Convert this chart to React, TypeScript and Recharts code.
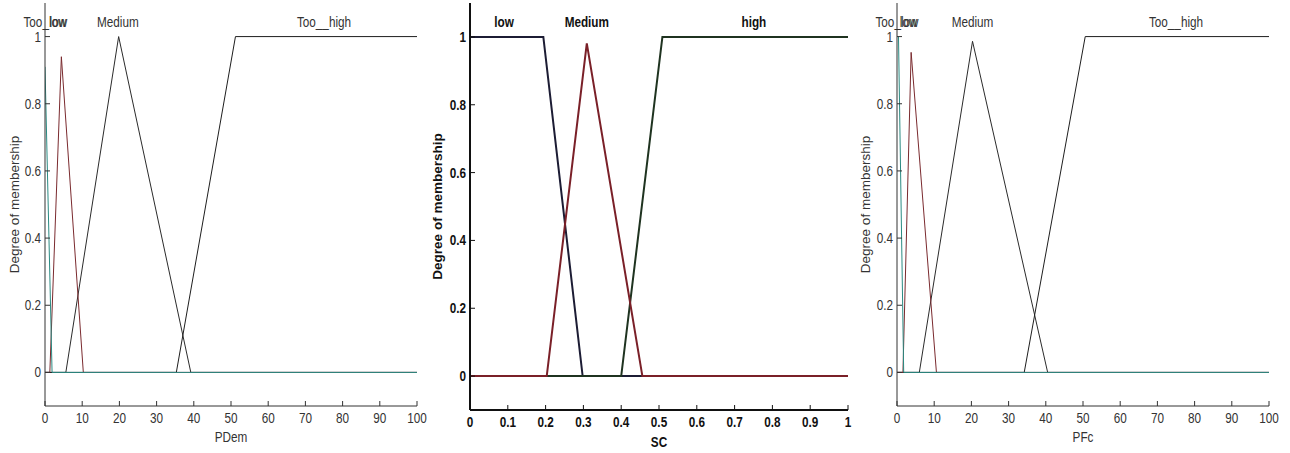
import React from 'react';
import { LineChart, Line, XAxis, YAxis, ReferenceDot } from 'recharts';

type Pt = [number, number];

// ---------- PDem ----------
const pdemTooLow: Pt[] = [[0, 0.91], [1.9, 0], [100, 0]];
const pdemLow: Pt[] = [[0, 0], [1.3, 0], [4.4, 0.94], [10.3, 0], [100, 0]];
const pdemMedium: Pt[] = [[0, 0], [5.6, 0], [19.8, 1], [39.2, 0], [100, 0]];
const pdemTooHigh: Pt[] = [[0, 0], [35.3, 0], [51.2, 1], [100, 1]];
const pdemLabels = ['Too_low', 'low', 'Medium', 'Too__high'];
const pdemLabelX = [0, 3.6, 19.6, 75];

// ---------- SC ----------
const scLow: Pt[] = [[0, 1], [0.194, 1], [0.298, 0], [1, 0]];
const scMedium: Pt[] = [[0, 0], [0.203, 0], [0.309, 0.981], [0.456, 0], [1, 0]];
const scHigh: Pt[] = [[0, 0], [0.4, 0], [0.509, 1], [1, 1]];
const scLabels = ['low', 'Medium', 'high'];
const scLabelX = [0.09, 0.309, 0.751];

// ---------- PFc ----------
const pfcTooLow: Pt[] = [[0.4, 1], [1.8, 0], [100, 0]];
const pfcLow: Pt[] = [[0, 0], [1.6, 0], [3.8, 0.953], [10.6, 0], [100, 0]];
const pfcMedium: Pt[] = [[0, 0], [6.0, 0], [20.3, 0.986], [40.5, 0], [100, 0]];
const pfcTooHigh: Pt[] = [[0, 0], [34.2, 0], [50.6, 1], [100, 1]];
const pfcLabels = ['Too_low', 'low', 'Medium', 'Too__high'];
const pfcLabelX = [0, 3.1, 20.3, 75];

// ---------- axes ----------
const yTicks = [0, 0.2, 0.4, 0.6, 0.8, 1];
const xTicks100 = [0, 10, 20, 30, 40, 50, 60, 70, 80, 90, 100];
const xTicks1 = [0, 0.1, 0.2, 0.3, 0.4, 0.5, 0.6, 0.7, 0.8, 0.9, 1];
const labelY = 1.043;

const FONT = "'Liberation Sans', Arial, sans-serif";
const SX = 0.84; // horizontal squeeze to imitate a narrow face

const toData = (pts: Pt[]) => pts.map(([x, y]) => ({ x, y }));

type Series = { pts: Pt[]; color: string };

type PanelProps = {
  left: number;
  width: number;
  yAxisWidth: number;
  marginRight: number;
  bottomH: number;
  xDomain: [number, number];
  xTicks: number[];
  xLabel: string;
  yLabelOffset: number;
  xLabelDy: number;
  series: Series[];
  labels: string[];
  labelX: number[];
  bold: boolean;
  sw: number;
  axisColor: string;
  textColor: string;
};

function NarrowText(props: { x: number; y: number; anchor: string; size: number; weight: string; color: string; dy?: string; children: string }) {
  return (
    <text
      transform={`translate(${props.x},${props.y}) scale(${SX},1)`}
      x={0}
      y={0}
      dy={props.dy || 0}
      textAnchor={props.anchor as any}
      fontFamily={FONT}
      fontSize={props.size}
      fontWeight={props.weight}
      fill={props.color}
    >
      {props.children}
    </text>
  );
}

function Panel(p: PanelProps) {
  const fw = p.bold ? 'bold' : 'normal';
  const axisW = p.bold ? 2 : 1;
  const TS = 14;

  const BottomTick = (t: any) => (
    <g>
      <line x1={t.x} x2={t.x} y1={t.y} y2={t.y - 5} stroke={p.axisColor} strokeWidth={1} />
      <NarrowText x={t.x} y={t.y + 16.5} anchor="middle" size={TS} weight={fw} color={p.textColor}>
        {String(t.payload.value)}
      </NarrowText>
    </g>
  );
  const TopTick = (t: any) => (
    <line x1={t.x} x2={t.x} y1={t.y} y2={t.y + 5} stroke={p.axisColor} strokeWidth={1} />
  );
  const LeftTick = (t: any) => (
    <g>
      <line x1={t.x} x2={t.x + 5} y1={t.y} y2={t.y} stroke={p.axisColor} strokeWidth={1} />
      <NarrowText x={t.x - 4} y={t.y} dy="0.36em" anchor="end" size={TS} weight={fw} color={p.textColor}>
        {String(t.payload.value)}
      </NarrowText>
    </g>
  );
  const RightTick = (t: any) => (
    <line x1={t.x} x2={t.x - 5} y1={t.y} y2={t.y} stroke={p.axisColor} strokeWidth={1} />
  );
  const XLabel = (lp: any) => {
    const vb = lp.viewBox || {};
    return (
      <NarrowText x={vb.x + vb.width / 2} y={vb.y + p.xLabelDy} anchor="middle" size={14} weight={fw} color={p.textColor}>
        {p.xLabel}
      </NarrowText>
    );
  };

  return (
    <div style={{ position: 'absolute', left: p.left, top: 0, width: p.width, height: 453 }}>
      <LineChart
        width={p.width}
        height={453}
        margin={{ top: 3, right: p.marginRight, bottom: 0, left: 0 }}
      >
        <XAxis
          xAxisId={0}
          dataKey="x"
          type="number"
          domain={p.xDomain}
          ticks={p.xTicks}
          interval={0}
          allowDataOverflow
          height={p.bottomH}
          tickSize={0}
          tickMargin={0}
          tickLine={false}
          tick={BottomTick}
          axisLine={{ stroke: p.axisColor, strokeWidth: axisW }}
          label={XLabel}
        />
        <XAxis
          xAxisId="top"
          orientation="top"
          dataKey="x"
          type="number"
          domain={p.xDomain}
          ticks={p.xTicks}
          interval={0}
          allowDataOverflow
          height={0}
          tickSize={0}
          tickMargin={0}
          tickLine={false}
          tick={TopTick}
          axisLine={{ stroke: p.axisColor, strokeWidth: axisW }}
        />
        <YAxis
          yAxisId={0}
          type="number"
          domain={[-0.1, 1.1]}
          ticks={yTicks}
          interval={0}
          allowDataOverflow
          width={p.yAxisWidth}
          tickSize={0}
          tickMargin={0}
          tickLine={false}
          tick={LeftTick}
          axisLine={{ stroke: p.axisColor, strokeWidth: axisW }}
          label={{
            value: 'Degree of membership',
            angle: -90,
            position: 'insideLeft',
            offset: p.yLabelOffset,
            style: { textAnchor: 'middle', fontFamily: FONT, fontSize: 13.5, fontWeight: fw, fill: p.textColor },
          }}
        />
        <YAxis
          yAxisId="right"
          orientation="right"
          type="number"
          domain={[-0.1, 1.1]}
          ticks={yTicks}
          interval={0}
          allowDataOverflow
          width={0}
          tickSize={0}
          tickMargin={0}
          tickLine={false}
          tick={RightTick}
          axisLine={{ stroke: p.axisColor, strokeWidth: axisW }}
        />
        {p.series.map((s, i) => (
          <Line
            key={i}
            data={toData(s.pts)}
            dataKey="y"
            type="linear"
            stroke={s.color}
            strokeWidth={p.sw}
            dot={false}
            activeDot={false}
            isAnimationActive={false}
          />
        ))}
        {p.labels.map((lab, i) => (
          <ReferenceDot
            key={'l' + i}
            x={p.labelX[i]}
            y={labelY}
            r={0}
            fill="none"
            stroke="none"
            label={(lp: any) => {
              const vb = lp.viewBox || {};
              const cx = (vb.x || 0) + (vb.width || 0) / 2;
              const cy = (vb.y || 0) + (vb.height || 0) / 2;
              return (
                <NarrowText x={cx} y={cy} dy="0.36em" anchor="middle" size={14} weight={fw} color={p.textColor}>
                  {lab}
                </NarrowText>
              );
            }}
          />
        ))}
      </LineChart>
    </div>
  );
}

export default function App() {
  return (
    <div style={{ position: 'absolute', left: 0, top: 0, width: 1290, height: 453, background: '#fff' }}>
      <Panel
        left={0}
        width={430}
        yAxisWidth={45}
        marginRight={13}
        bottomH={47}
        xDomain={[0, 100]}
        xTicks={xTicks100}
        xLabel="PDem"
        yLabelOffset={14}
        xLabelDy={36}
        series={[
          { pts: pdemMedium, color: '#2b2b2b' },
          { pts: pdemTooHigh, color: '#1e1e1e' },
          { pts: pdemLow, color: '#7a2a2e' },
          { pts: pdemTooLow, color: '#2a8a82' },
        ]}
        labels={pdemLabels}
        labelX={pdemLabelX}
        bold={false}
        sw={1}
        axisColor="#333"
        textColor="#333"
      />
      <Panel
        left={430}
        width={430}
        yAxisWidth={40}
        marginRight={12}
        bottomH={43}
        xDomain={[0, 1]}
        xTicks={xTicks1}
        xLabel="SC"
        yLabelOffset={7}
        xLabelDy={36.5}
        series={[
          { pts: scLow, color: '#1c1c34' },
          { pts: scHigh, color: '#1f3320' },
          { pts: scMedium, color: '#7a2028' },
        ]}
        labels={scLabels}
        labelX={scLabelX}
        bold={true}
        sw={2}
        axisColor="#111"
        textColor="#111"
      />
      <Panel
        left={850}
        width={440}
        yAxisWidth={47}
        marginRight={21}
        bottomH={47}
        xDomain={[0, 100]}
        xTicks={xTicks100}
        xLabel="PFc"
        yLabelOffset={15}
        xLabelDy={36}
        series={[
          { pts: pfcMedium, color: '#2b2b2b' },
          { pts: pfcTooHigh, color: '#1e1e1e' },
          { pts: pfcLow, color: '#7a2a2e' },
          { pts: pfcTooLow, color: '#2a8a82' },
        ]}
        labels={pfcLabels}
        labelX={pfcLabelX}
        bold={false}
        sw={1}
        axisColor="#333"
        textColor="#333"
      />
    </div>
  );
}
